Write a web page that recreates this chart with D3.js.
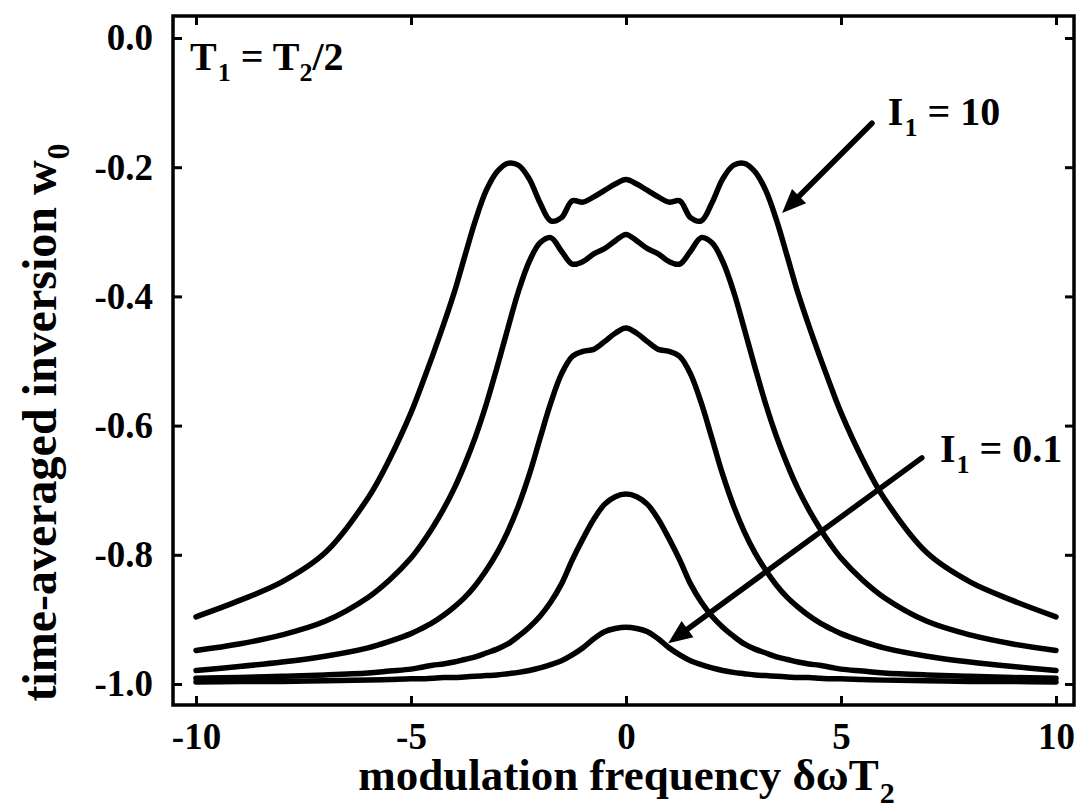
<!DOCTYPE html>
<html>
<head>
<meta charset="utf-8">
<script src="https://cdn.jsdelivr.net/npm/d3@7"></script>
<style>
  body { margin: 0; background: #fff; }
</style>
</head>
<body>
<svg id="chart" width="1078" height="809"></svg>
<script>
// modulation frequency δωT2 (shared abscissa for every curve)
const detuning = [-10,-9,-8,-7,-6,-5.5,-5,-4.75,-4.5,-4.25,-4,-3.75,-3.5,-3.25,-3,-2.75,-2.5,-2.25,-2,-1.75,-1.5,-1.25,-1,-0.75,-0.5,-0.25,
  0,
  0.25,0.5,0.75,1,1.25,1.5,1.75,2,2.25,2.5,2.75,3,3.25,3.5,3.75,4,4.25,4.5,4.75,5,5.5,6,7,8,9,10];

// time-averaged inversion w0, strongest pump (I1 = 10) first, weakest (I1 = 0.1) last
const w0_I10 = [-0.896,-0.871,-0.842,-0.797,-0.712,-0.652,-0.580,-0.537,-0.492,-0.445,-0.395,-0.338,-0.282,-0.236,-0.207,-0.194,-0.197,-0.218,-0.255,-0.283,-0.278,-0.252,-0.254,-0.246,-0.236,-0.226,
  -0.219,
  -0.226,-0.236,-0.246,-0.254,-0.252,-0.278,-0.283,-0.255,-0.218,-0.197,-0.194,-0.207,-0.236,-0.282,-0.338,-0.395,-0.445,-0.492,-0.537,-0.580,-0.652,-0.712,-0.797,-0.842,-0.871,-0.896];
const w0_second = [-0.948,-0.938,-0.924,-0.903,-0.866,-0.839,-0.805,-0.783,-0.758,-0.730,-0.698,-0.660,-0.617,-0.567,-0.510,-0.450,-0.392,-0.346,-0.317,-0.309,-0.330,-0.350,-0.346,-0.334,-0.326,-0.314,
  -0.304,
  -0.314,-0.326,-0.334,-0.346,-0.350,-0.330,-0.309,-0.317,-0.346,-0.392,-0.450,-0.510,-0.567,-0.617,-0.660,-0.698,-0.730,-0.758,-0.783,-0.805,-0.839,-0.866,-0.903,-0.924,-0.938,-0.948];
const w0_third = [-0.979,-0.973,-0.966,-0.957,-0.944,-0.934,-0.922,-0.914,-0.905,-0.894,-0.881,-0.866,-0.847,-0.824,-0.797,-0.764,-0.724,-0.676,-0.620,-0.565,-0.520,-0.493,-0.485,-0.482,-0.470,-0.457,
  -0.449,
  -0.457,-0.470,-0.482,-0.485,-0.493,-0.520,-0.565,-0.620,-0.676,-0.724,-0.764,-0.797,-0.824,-0.847,-0.866,-0.881,-0.894,-0.905,-0.914,-0.922,-0.934,-0.944,-0.957,-0.966,-0.973,-0.979];
const w0_fourth = [-0.991,-0.990,-0.988,-0.986,-0.983,-0.980,-0.977,-0.974,-0.971,-0.969,-0.966,-0.962,-0.958,-0.952,-0.946,-0.938,-0.926,-0.912,-0.895,-0.873,-0.845,-0.808,-0.775,-0.745,-0.722,-0.710,
  -0.706,
  -0.710,-0.722,-0.745,-0.775,-0.808,-0.845,-0.873,-0.895,-0.912,-0.926,-0.938,-0.946,-0.952,-0.958,-0.962,-0.966,-0.969,-0.971,-0.974,-0.977,-0.980,-0.983,-0.986,-0.988,-0.990,-0.991];
const w0_I01 = [-0.997,-0.996,-0.996,-0.995,-0.994,-0.993,-0.992,-0.992,-0.991,-0.990,-0.990,-0.989,-0.988,-0.987,-0.986,-0.984,-0.982,-0.979,-0.975,-0.970,-0.964,-0.955,-0.944,-0.930,-0.919,-0.914,
  -0.912,
  -0.914,-0.919,-0.930,-0.944,-0.955,-0.964,-0.970,-0.975,-0.979,-0.982,-0.984,-0.986,-0.987,-0.988,-0.989,-0.990,-0.990,-0.991,-0.992,-0.992,-0.993,-0.994,-0.995,-0.996,-0.996,-0.997];

const curves = [w0_I10, w0_second, w0_third, w0_fourth, w0_I01];

const xTickValues = [-10, -5, 0, 5, 10];
const xTickLabels = ["-10", "-5", "0", "5", "10"];
const yTickValues = [0, -0.2, -0.4, -0.6, -0.8, -1.0];
const yTickLabels = ["0.0", "-0.2", "-0.4", "-0.6", "-0.8", "-1.0"];

const FONT = "Liberation Serif";
const svg = d3.select("#chart");

// plot frame (pixels) and scales
const frame = { left: 173, right: 1074, top: 16, bottom: 705 };
const x = d3.scaleLinear().domain([-10, 10]).range([196, 1056]);
const y = d3.scaleLinear().domain([0, -1]).range([38, 684]);

// axes with inward ticks on all four sides
const tickLen = 9;
const fmtX = d => xTickLabels[xTickValues.indexOf(d)];
const fmtY = d => yTickLabels[yTickValues.indexOf(d)];

function styleAxis(g) {
  g.attr("font-family", null).attr("font-size", null);
  g.select(".domain").remove();
  g.selectAll(".tick line").attr("stroke", "#000").attr("stroke-width", 3);
  g.selectAll("text")
    .style("font-family", FONT).style("font-weight", "bold").attr("font-size", 37)
    .attr("fill", "#000");
}

svg.append("g").attr("transform", `translate(0,${frame.bottom})`)
  .call(d3.axisBottom(x).tickValues(xTickValues).tickFormat(fmtX).tickSize(-tickLen).tickPadding(18))
  .call(styleAxis);
svg.append("g").attr("transform", `translate(0,${frame.top})`)
  .call(d3.axisTop(x).tickValues(xTickValues).tickFormat("").tickSize(-tickLen))
  .call(styleAxis);
svg.append("g").attr("transform", `translate(${frame.left},0)`)
  .call(d3.axisLeft(y).tickValues(yTickValues).tickFormat(fmtY).tickSize(-tickLen).tickPadding(20))
  .call(styleAxis);
svg.append("g").attr("transform", `translate(${frame.right},0)`)
  .call(d3.axisRight(y).tickValues(yTickValues).tickFormat("").tickSize(-tickLen))
  .call(styleAxis);

svg.append("rect")
  .attr("x", frame.left).attr("y", frame.top)
  .attr("width", frame.right - frame.left).attr("height", frame.bottom - frame.top)
  .attr("fill", "none").attr("stroke", "#000").attr("stroke-width", 3.5);

// curves
const line = d3.line()
  .x((d, i) => x(detuning[i]))
  .y(d => y(d))
  .curve(d3.curveCatmullRom.alpha(0.5));

svg.append("g").selectAll("path")
  .data(curves)
  .join("path")
  .attr("d", line)
  .attr("fill", "none")
  .attr("stroke", "#000")
  .attr("stroke-width", 5.5)
  .attr("stroke-linecap", "round")
  .attr("stroke-linejoin", "round");

// text with subscripts: parts are {t} for normal runs and {sub} for subscripts
function richText(parent, parts, px, py, size, anchor) {
  const t = parent.append("text").attr("x", px).attr("y", py)
    .style("font-family", FONT).style("font-weight", "bold").attr("font-size", size)
    .attr("fill", "#000").attr("text-anchor", anchor || "start");
  const subSize = Math.round(size * 0.66);
  const shift = Math.round(size * 0.28);
  let lowered = false;
  parts.forEach(p => {
    const span = t.append("tspan").attr("dx", p.dx || 0);
    if (p.sub) {
      span.text(p.sub).attr("font-size", subSize).attr("dy", lowered ? 0 : shift);
      lowered = true;
    } else {
      span.text(p.t).attr("dy", lowered ? -shift : 0);
      lowered = false;
    }
  });
  return t;
}

// annotations (data coordinates)
const annotations = [
  { label: [{ t: "I" }, { sub: "1", dx: 1 }, { t: " = 10" }], tx: 6.09, ty: -0.135,
    from: [5.72, -0.132], to: [3.63, -0.271] },
  { label: [{ t: "I" }, { sub: "1", dx: 1 }, { t: " = 0.1" }], tx: 7.30, ty: -0.656,
    from: [6.88, -0.650], to: [0.98, -0.937] }
];

const ann = svg.append("g");
annotations.forEach(a => {
  richText(ann, a.label, x(a.tx), y(a.ty), 40);
  const x0 = x(a.from[0]), y0 = y(a.from[1]);
  const x1 = x(a.to[0]), y1 = y(a.to[1]);
  const ang = Math.atan2(y1 - y0, x1 - x0);
  const headLen = 24, headHalf = 10;
  const bx = x1 - headLen * Math.cos(ang), by = y1 - headLen * Math.sin(ang);
  ann.append("line")
    .attr("x1", x0).attr("y1", y0).attr("x2", bx + 4 * Math.cos(ang)).attr("y2", by + 4 * Math.sin(ang))
    .attr("stroke", "#000").attr("stroke-width", 5.5).attr("stroke-linecap", "round");
  const nx = -Math.sin(ang), ny = Math.cos(ang);
  ann.append("path")
    .attr("d", `M${x1},${y1}L${bx + headHalf * nx},${by + headHalf * ny}L${bx - headHalf * nx},${by - headHalf * ny}Z`)
    .attr("fill", "#000");
});

richText(ann, [{ t: "T" }, { sub: "1", dx: 1 }, { t: " = T" }, { sub: "2" }, { t: "/2" }],
  x(-10.14), y(-0.0495), 40);

// axis titles
richText(svg, [{ t: "modulation frequency δωT" }, { sub: "2", dx: 1 }],
  (frame.left + frame.right) / 2 + 3, 790, 45, "middle");

const yTitle = svg.append("g").attr("transform", `translate(56,${(frame.top + frame.bottom) / 2 + 62}) rotate(-90)`);
richText(yTitle, [{ t: "time-averaged inversion w" }, { sub: "0", dx: 1 }], 0, 0, 48, "middle");
</script>
</body>
</html>
